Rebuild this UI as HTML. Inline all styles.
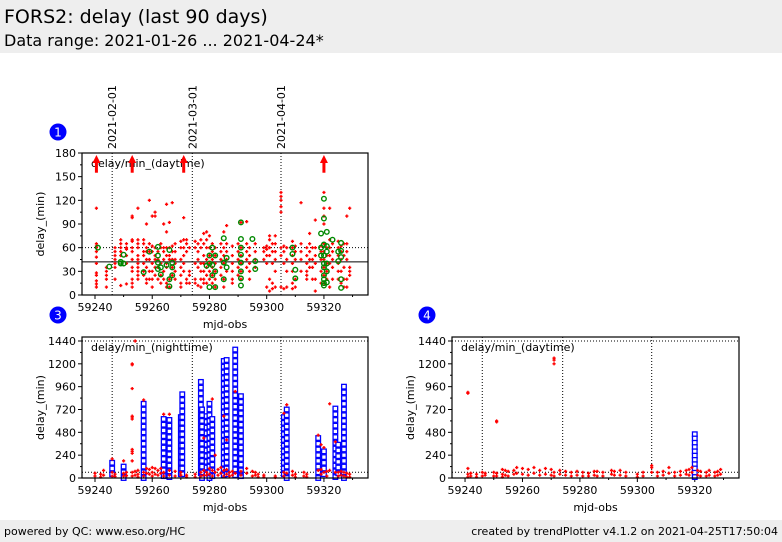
<!DOCTYPE html>
<html><head><meta charset="utf-8"><style>
body{margin:0;width:782px;height:542px;background:#fff;font-family:"DejaVu Sans","Liberation Sans",sans-serif;overflow:hidden;position:relative}
#hdr{position:absolute;left:0;top:0;width:782px;height:53px;background:#eeeeee}
#t1{position:absolute;left:4px;top:6px;font-size:19px}
#t2{position:absolute;left:4px;top:31px;font-size:16px}
#ftr{position:absolute;left:0;top:520px;width:782px;height:22px;background:#eeeeee;font-size:11px}
svg{position:absolute;left:0;top:0}
</style></head><body>
<div id="hdr"><div id="t1">FORS2: delay (last 90 days)</div><div id="t2">Data range: 2021-01-26 ... 2021-04-24*</div></div>
<svg id="c" width="782" height="542"></svg>
<div id="ftr"><span style="position:absolute;left:4px;top:5px">powered by QC: www.eso.org/HC</span><span style="position:absolute;right:4px;top:5px">created by trendPlotter v4.1.2 on 2021-04-25T17:50:04</span></div>
<script>
const xTicks=[59240,59260,59280,59300,59320];
const monthDays=[59246,59274,59305];
const monthLabels=["2021-02-01","2021-03-01","2021-04-01"];
const y1Ticks=[0,30,60,90,120,150,180];
const y3Ticks=[0,240,480,720,960,1200,1440];
const r1Days=[59240.5,59244,59247,59249,59251,59253,59255,59257,59258,59259,59260,59261,59262,59263,59264,59265,59266,59267,59268,59270,59271,59272,59273,59275,59276,59277,59278,59279,59280,59281,59282,59284,59285,59286,59288,59290,59291,59293,59294,59296,59299,59300,59301,59302,59303,59305,59306,59307,59309,59310,59312,59314,59315,59316,59317,59319,59320,59321,59322,59323,59325,59326,59327,59328,59329];
const r1Vals=[[110,65,62,60,55,48,40,28,25,18,14,10],[35,30,25,20,10],[60,55,50,45,40,35,20],[70,65,60,55,50,12],[65,60,58,50,40,14],[70,68,60,55,45,35,30,20,15,10,98,100],[110,70,65,60,50,45,40,35,30,25,20],[70,65,55,50,40,30,25],[90,60,55,45,35,20,15],[120,65,55,45,30,20],[100,62,55,40,30,20,10],[105,100,60,50,45,35,25],[55,45,35,20],[65,60,40,25,15],[90,60,55,45,30,20],[115,80,60,50,40,35,15,10],[92,60,50,45,20,10],[117,62,55,45,35,25],[65,55,45,40,30,20],[68,60,45,35,25,15,10],[98,70,60,50,40,30],[70,65,55,20,15],[60,30,25,15],[68,60,40,20,15],[65,55,45,35,12],[70,60,40,30,20,10],[78,65,50,40,30,20,15],[80,70,60,45,35,25,15],[75,60,50,40,30,20],[65,55,45,35,25,15],[60,50,40,30,20,10],[65,55,45,35,25],[80,60,50,40,20,10],[88,65,55,45,30],[62,50,40,30,20,15],[65,55,45,35,25],[92,60,50,40,30,20],[93,65,55,45,35],[60,50,40,30,20],[65,55,45,35],[60,55,45],[62,58,50,40,10],[75,70,60,50,20,5],[65,55,40,15,8],[75,65,55,45,30,10],[130,125,120,112,105,60,50,10],[62,55,40,8],[60,45,30,10],[68,60,50,40,30,15,8],[62,55,45,20,10],[117,65,55,45,30],[60,50,40,30,25,20],[78,65,55,45,35],[60,45,35,20],[95,60,50,40,20,5],[62,55,45,30,15],[130,110,100,90,65,55,45,35,25,15],[60,50,40,30,20],[110,70,60,50,40,10],[65,55,45,35,20],[68,60,50,40,30,20],[62,55,45,30,15],[65,50,35,20,10],[100,65,55,45,20,10],[110,35,30,25]];
const g1Days=[59241,59245,59249,59250,59257,59259,59262,59263,59265,59266,59267,59279,59280,59281,59282,59285,59286,59291,59295,59296,59309,59310,59319,59320,59321,59323,59325,59326];
const g1Vals=[[60],[36],[42,40],[51,40],[29],[55],[61,50,41,33],[35,26],[38],[57,20,11],[41,35,25],[37],[50,40,10],[60,38,25],[50,30,10],[72,41,20],[47,35],[92,71,60,51,41,30,21,12],[71],[43,33],[60,52],[32,21],[78,60,50],[122,97,64,50,40,35,25,20,15,12],[80,62,55,40,30,16],[70],[43,55],[66,56,48,20,9]];
const overDays1=[59240.5,59253,59271,59320];
const median1=42, limit1=60;
const r3Days=[59240,59242,59243,59246,59247,59250,59251,59253,59254,59255,59257,59258,59259,59260,59261,59262,59263,59264,59266,59268,59270,59272,59275,59277,59278,59279,59280,59281,59282,59283,59284,59285,59286,59287,59288,59289,59291,59293,59295,59296,59297,59299,59303,59306,59307,59309,59310,59313,59314,59318,59319,59320,59321,59322,59324,59325,59326,59327,59328,59329];
const r3Vals=[[50,20],[40,10],[80,30],[200,60,20],[40,15],[180,50,20],[60,25],[1200,1190,940,650,640,620,300,280,260,180,60,20],[70,30],[80,40,10],[820,60,20],[100,50],[90,40],[110,60,20],[100,40],[80,30],[100,50],[670,60,20],[670,80,30],[70,20],[60,30],[30,10],[40,10],[60,20],[420,80,30],[60,30],[100,40],[830,80,20],[240,60],[90,30],[110,50],[650,80,20],[400,90,40],[60,20],[70,30],[910,50],[70,30],[100,50],[70,20],[60,30],[40,10],[30,10],[20,5],[680,60,20],[770,50],[70,30],[40,10],[60,20],[40,10],[450,80],[350,90,40],[320,60],[70,20],[780,80],[380,60],[60,20],[70,30],[60,20],[50,10],[40,10]];
const b3Days=[59246,59250,59257,59264,59266,59270,59270.5,59277,59277.4,59279,59280,59281,59285,59286,59289,59291,59306,59307,59318,59320,59324,59325,59327];
const b3Tops=[160,120,780,620,610,640,880,1010,720,650,780,620,1230,1240,1350,860,640,720,420,280,730,350,960];
const over3Days=[59253];
const r4Days=[59241,59242,59244,59246,59247,59250,59251,59253,59254,59255,59257,59258,59260,59262,59264,59266,59268,59270,59271,59273,59275,59277,59279,59281,59283,59285,59286,59288,59291,59292,59294,59296,59300,59302,59305,59307,59309,59311,59313,59315,59317,59318,59319,59321,59322,59324,59325,59327,59328,59329];
const r4Vals=[[900,890,100,40,10],[50,20],[40,10],[60,20],[50,30],[60,20],[600,590,50,20],[90,40,10],[80,30],[70,20],[80,40],[110,50],[100,40],[90,30],[110,50],[80,30],[100,40],[90,30],[1260,1240,1200,60,20],[80,40],[70,30],[60,20],[70,30],[60,20],[50,20],[70,30],[70,20],[60,20],[80,40],[70,30],[80,30],[60,20],[40,10],[60,20],[130,110,60],[60,20],[70,30],[110,50],[60,20],[70,30],[80,40],[90,30],[110,60],[80,30],[70,20],[60,20],[80,30],[60,20],[70,30],[90,40]];
const b4Days=[59320];
const b4Tops=[460];
const limit3=60, top3=1440;

const S=document.getElementById('c');const NS='http://www.w3.org/2000/svg';
function el(t,a,p){const e=document.createElementNS(NS,t);for(const k in a)e.setAttribute(k,a[k]);(p||S).appendChild(e);return e;}
function mkX(x0,x1){return d=>x0+(d-59235.46)*(x1-x0)/(59335.4-59235.46);}
function mkY(y0,y1,vmax){return v=>y1-v*(y1-y0)/vmax;}
function axes(name,x0,y0,x1,y1,X,Y,yt,label){
 const g=el('g',{});
 monthDays.forEach(d=>{const l=el('line',{x1:X(d),x2:X(d),y1:y0,y2:y1,stroke:'#000','stroke-width':1,'stroke-dasharray':'1,2'},g);});
 xTicks.forEach(t=>{el('line',{x1:X(t),x2:X(t),y1:y1,y2:y1+4,stroke:'#000'},g);const tx=el('text',{x:X(t),y:y1+16,'font-size':11,'text-anchor':'middle'},g);tx.textContent=t;});
 for(let t=59250;t<=59330;t+=20)el('line',{x1:X(t),x2:X(t),y1:y1,y2:y1+2,stroke:'#000'},g);
 yt.forEach(t=>{el('line',{x1:x0-4,x2:x0,y1:Y(t),y2:Y(t),stroke:'#000'},g);const tx=el('text',{x:x0-6,y:Y(t)+4,'font-size':11,'text-anchor':'end'},g);tx.textContent=t;});
 for(let i=0;i<yt.length-1;i++){const m=(yt[i]+yt[i+1])/2;el('line',{x1:x0-2,x2:x0,y1:Y(m),y2:Y(m),stroke:'#000'},g);}
 const xl=el('text',{x:(x0+x1)/2,y:y1+33,'font-size':11,'text-anchor':'middle'},g);xl.textContent='mjd-obs';
 const yl=el('text',{x:0,y:0,'font-size':11,'text-anchor':'middle',transform:`translate(${x0-38},${(y0+y1)/2}) rotate(-90)`},g);yl.textContent='delay_(min)';
 const lb=el('text',{x:x0+9,y:y0+14,'font-size':11},g);lb.textContent=label;
 return g;}
function frame(x0,y0,x1,y1){const r=el('rect',{x:x0,y:y0,width:x1-x0,height:y1-y0,fill:'none',stroke:'#000','stroke-width':1.2});}
function plus(x,y){const p=el('path',{d:`M${x-1.6},${y}h3.2M${x},${y-1.6}v3.2`,stroke:'#f00','stroke-width':1.4});}
function circ(x,y){const c=el('circle',{cx:x,cy:y,r:2.3,fill:'none',stroke:'#080','stroke-width':1.4});}
function sq(x,y){const r=el('rect',{x:x-2.3,y:y-2.3,width:4.6,height:4.6,fill:'#fff',stroke:'#00f','stroke-width':1.3});}
function arrow(x,y0,y1){const g=el('g',{});el('line',{x1:x,x2:x,y1:y1,y2:y0+4,stroke:'#f00','stroke-width':3},g);el('path',{d:`M${x-4},${y0+8}L${x},${y0}L${x+4},${y0+8}Z`,fill:'#f00'},g);}
function badge(x,y,n){const g=el('g',{});el('circle',{cx:x,cy:y,r:8.5,fill:'#00f'},g);const t=el('text',{x:x,y:y+4.5,'font-size':12,fill:'#fff','text-anchor':'middle'},g);t.textContent=n;}

{const x0=82,y0=153,x1=368,y1=295,X=mkX(x0,x1),Y=mkY(y0,y1,180);
 axes('plot-1-axes',x0,y0,x1,y1,X,Y,y1Ticks,'delay/min_(daytime)');
 el('line',{x1:x0,x2:x1,y1:Y(limit1),y2:Y(limit1),stroke:'#000','stroke-dasharray':'1,2'});
 el('line',{x1:x0,x2:x1,y1:Y(median1),y2:Y(median1),stroke:'#000','stroke-width':1});
 r1Days.forEach((d,i)=>(r1Vals[i]||[]).forEach(v=>plus(X(d),Y(v))));
 g1Days.forEach((d,i)=>(g1Vals[i]||[]).forEach(v=>circ(X(d),Y(v))));
 overDays1.forEach(d=>arrow(X(d),y0+2,Y(155)));
 monthDays.forEach((d,i)=>{const t=el('text',{x:0,y:0,'font-size':11,'text-anchor':'start',transform:`translate(${X(d)+4},${y0-4}) rotate(-90)`});t.textContent=monthLabels[i];});
 frame(x0,y0,x1,y1);badge(58,132,'1');}
{const x0=82,y0=337,x1=368,y1=478,X=mkX(x0,x1),Y=mkY(y0,y1,1482);
 axes('plot-3-axes',x0,y0,x1,y1,X,Y,y3Ticks,'delay/min_(nighttime)');
 el('line',{x1:x0,x2:x1,y1:Y(top3),y2:Y(top3),stroke:'#000','stroke-dasharray':'1,2'});
 el('line',{x1:x0,x2:x1,y1:Y(limit3),y2:Y(limit3),stroke:'#000','stroke-dasharray':'1,2'});
 b3Days.forEach((d,i)=>{for(let v=b3Tops[i];v>=0;v-=60)sq(X(d),Y(v));});
 r3Days.forEach((d,i)=>(r3Vals[i]||[]).forEach(v=>plus(X(d),Y(v))));
 over3Days.forEach(d=>plus(X(d)+3,Y(1440)));
 frame(x0,y0,x1,y1);badge(58,315,'3');}
{const x0=452,y0=337,x1=739,y1=478,X=mkX(x0,x1),Y=mkY(y0,y1,1482);
 axes('plot-4-axes',x0,y0,x1,y1,X,Y,y3Ticks,'delay/min_(daytime)');
 el('line',{x1:x0,x2:x1,y1:Y(top3),y2:Y(top3),stroke:'#000','stroke-dasharray':'1,2'});
 el('line',{x1:x0,x2:x1,y1:Y(limit3),y2:Y(limit3),stroke:'#000','stroke-dasharray':'1,2'});
 b4Days.forEach((d,i)=>{for(let v=b4Tops[i];v>=0;v-=45)sq(X(d),Y(v));});
 r4Days.forEach((d,i)=>(r4Vals[i]||[]).forEach(v=>plus(X(d),Y(v))));
 frame(x0,y0,x1,y1);badge(427,315,'4');}
</script>
</body></html>
